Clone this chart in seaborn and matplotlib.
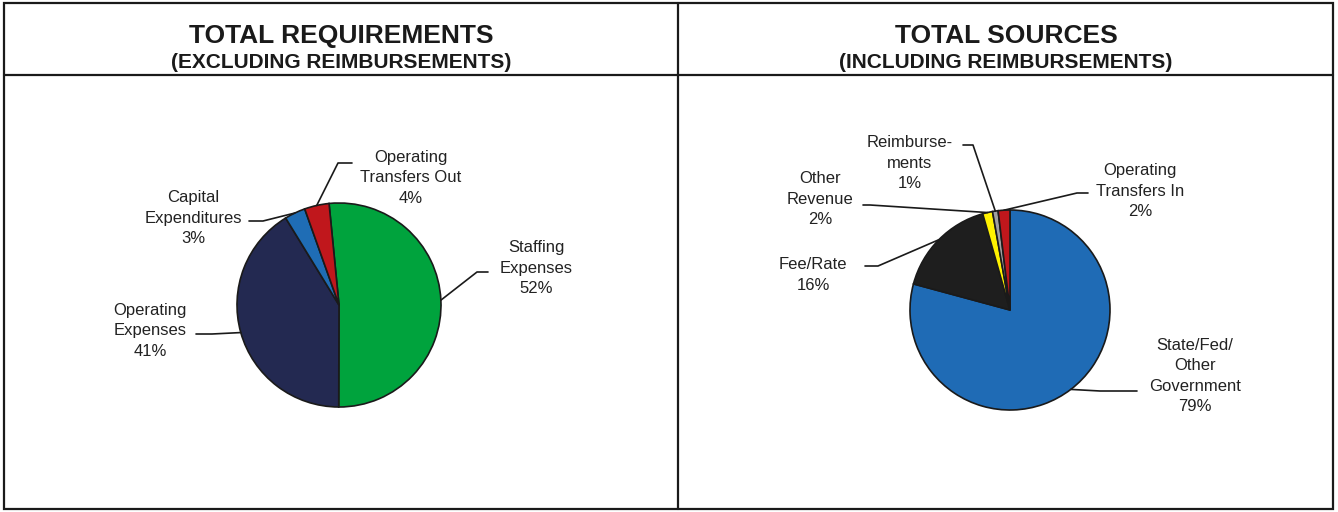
import numpy as np
import matplotlib
matplotlib.use("Agg")
import matplotlib.pyplot as plt
from matplotlib.patches import Rectangle
import seaborn as sns

# Total requirements (excluding reimbursements), share in percent
req_labels = ["Staffing\nExpenses", "Operating\nExpenses", "Capital\nExpenditures", "Operating\nTransfers Out"]
req_values = [51.6, 41.2, 3.3, 3.9]
req_colors = ["#00a33d", "#232951", "#1f6db5", "#c0171c"]

# Total sources (including reimbursements), share in percent
src_labels = ["State/Fed/\nOther\nGovernment", "Fee/Rate", "Other\nRevenue", "Reimburse-\nments", "Operating\nTransfers In"]
src_values = [79.2, 16.4, 1.6, 0.9, 1.9]
src_colors = ["#1f6bb5", "#1e1e1e", "#fff200", "#a0a0a0", "#c0171c"]

W, H = 1338, 512

sns.set_theme(style="white")
plt.rcParams["font.family"] = ["Liberation Sans", "DejaVu Sans"]

fig = plt.figure(figsize=(W / 100, H / 100), dpi=100)
ax = fig.add_axes([0, 0, 1, 1])


def Y(y):
    return H - y


def draw_pie(values, labels, colors, center, radius, start, layout):
    wedges, _ = ax.pie(values, colors=colors, startangle=start, counterclock=False,
                       center=(center[0], Y(center[1])), radius=radius,
                       wedgeprops=dict(edgecolor="#1a1a1a", linewidth=1.2))
    for w, lab, v, (tx, ty, ex, elx, ey) in zip(wedges, labels, values, layout):
        # leader starts on the rim at the middle of the wedge
        ang = np.deg2rad((w.theta1 + w.theta2) / 2)
        axx = center[0] + radius * np.cos(ang)
        ayy = Y(center[1]) + radius * np.sin(ang)
        ax.plot([axx, elx, ex], [ayy, Y(ey), Y(ey)], color="#1a1a1a", lw=1.2, zorder=3)
        ax.text(tx, Y(ty), f"{lab}\n{round(v)}%", ha="center", va="center", fontsize=12,
                color="#222222", linespacing=1.45)


# text x, text y, line end x, elbow x, line y  (image pixels)
req_layout = [
    (536, 268, 488, 477, 272),
    (150, 331, 196, 212, 334),
    (193, 218, 249, 263, 221),
    (411, 178, 352, 338, 163),
]
src_layout = [
    (1195, 376, 1137, 1100, 391),
    (813, 275, 865, 878, 266),
    (820, 199, 863, 870, 205),
    (910, 163, 963, 973, 145),
    (1140, 191, 1088, 1077, 193),
]

draw_pie(req_values, req_labels, req_colors, (339, 305), 102, 95.6, req_layout)
draw_pie(src_values, src_labels, src_colors, (1010, 310), 100, 90, src_layout)

ax.set_xlim(0, W)
ax.set_ylim(0, H)
ax.set_aspect("auto")
ax.axis("off")

# panel frames
ax.add_patch(Rectangle((4, Y(509)), 1329, 506, fill=False, lw=1.6, ec="#1a1a1a"))
ax.plot([678, 678], [Y(3), Y(509)], color="#1a1a1a", lw=1.6)
ax.plot([4, 1333], [Y(75), Y(75)], color="#1a1a1a", lw=1.6)

titles = [(341, "TOTAL REQUIREMENTS", "(EXCLUDING REIMBURSEMENTS)"),
          (1006, "TOTAL SOURCES", "(INCLUDING REIMBURSEMENTS)")]
for x, t, s in titles:
    ax.text(x, Y(36), t, ha="center", va="center", fontsize=19, fontweight="bold", color="#1a1a1a")
    ax.text(x, Y(62), s, ha="center", va="center", fontsize=15, fontweight="bold", color="#1a1a1a")

fig.savefig("out.png", dpi=100)
